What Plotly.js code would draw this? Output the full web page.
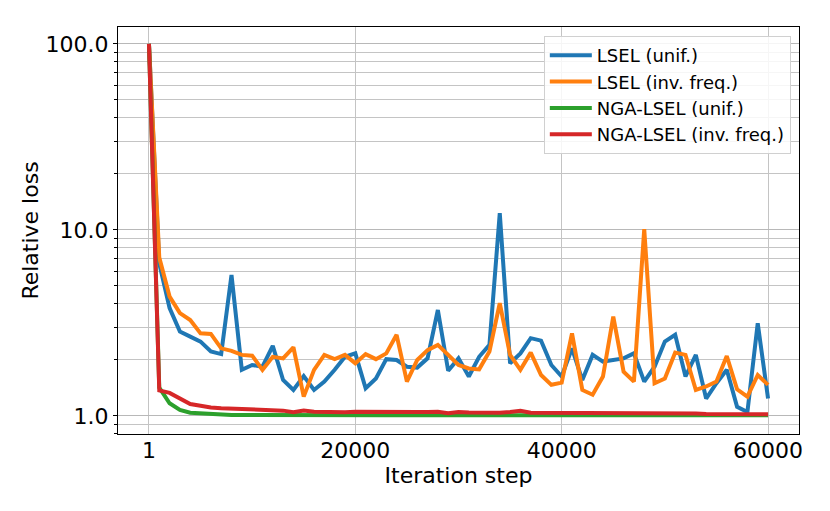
<!DOCTYPE html>
<html>
<head>
<meta charset="utf-8">
<script src="https://cdn.plot.ly/plotly-3.0.1.min.js"></script>
<style>
  html, body { margin: 0; padding: 0; background: #fff; }
  #chart { width: 830px; height: 511px; }
</style>
</head>
<body>
<div id="chart"></div>
<script>
// Iteration steps: 1, then every 1000 up to 60000
const steps = [1, 1000, 2000, 3000, 4000, 5000, 6000, 7000, 8000, 9000,
  10000, 11000, 12000, 13000, 14000, 15000, 16000, 17000, 18000, 19000,
  20000, 21000, 22000, 23000, 24000, 25000, 26000, 27000, 28000, 29000,
  30000, 31000, 32000, 33000, 34000, 35000, 36000, 37000, 38000, 39000,
  40000, 41000, 42000, 43000, 44000, 45000, 46000, 47000, 48000, 49000,
  50000, 51000, 52000, 53000, 54000, 55000, 56000, 57000, 58000, 59000, 60000];

const lselUnif = [100, 6.6, 3.8, 2.84, 2.67, 2.51, 2.22, 2.15, 5.73, 1.77,
  1.88, 1.84, 2.38, 1.56, 1.38, 1.64, 1.38, 1.53, 1.77, 2.08,
  2.17, 1.41, 1.59, 2.02, 2.0, 1.84, 1.82, 2.04, 3.71, 1.75,
  2.04, 1.63, 2.08, 2.41, 12.3, 1.92, 2.17, 2.62, 2.54, 1.88,
  1.63, 2.31, 1.56, 2.13, 1.96, 2.0, 2.04, 2.17, 1.53, 1.84,
  2.51, 2.73, 1.63, 2.13, 1.24, 1.50, 1.77, 1.12, 1.05, 3.15, 1.24];

const lselInvFreq = [100, 7.1, 4.38, 3.57, 3.28, 2.78, 2.76, 2.31, 2.24, 2.13,
  2.11, 1.77, 2.08, 2.04, 2.34, 1.27, 1.77, 2.13, 2.02, 2.13,
  1.92, 2.15, 2.02, 2.17, 2.73, 1.53, 2.0, 2.26, 2.41, 2.13,
  1.88, 1.80, 1.78, 2.22, 4.04, 2.13, 1.77, 2.19, 1.66, 1.47,
  1.51, 2.78, 1.38, 1.30, 1.63, 3.42, 1.73, 1.53, 10.1, 1.50,
  1.59, 2.19, 2.13, 1.38, 1.44, 1.53, 2.10, 1.39, 1.27, 1.66, 1.47];

const ngaUnif = [100, 1.42, 1.17, 1.077, 1.04, 1.03, 1.02, 1.015, 1.012, 1.012,
  1.011, 1.01, 1.01, 1.01, 1.01, 1.01, 1.01, 1.01, 1.01, 1.01,
  1.01, 1.01, 1.01, 1.01, 1.01, 1.01, 1.01, 1.01, 1.01, 1.01,
  1.008, 1.008, 1.008, 1.008, 1.01, 1.012, 1.015, 1.008, 1.008, 1.008,
  1.008, 1.008, 1.008, 1.008, 1.008, 1.008, 1.008, 1.008, 1.008, 1.008,
  1.008, 1.008, 1.008, 1.008, 1.008, 1.008, 1.008, 1.008, 1.008, 1.008, 1.008];

const ngaInvFreq = [100, 1.37, 1.33, 1.245, 1.16, 1.136, 1.11, 1.10, 1.095, 1.086,
  1.086, 1.077, 1.068, 1.068, 1.047, 1.07, 1.055, 1.05, 1.047, 1.047,
  1.055, 1.052, 1.052, 1.05, 1.05, 1.047, 1.05, 1.05, 1.052, 1.034,
  1.05, 1.045, 1.04, 1.045, 1.04, 1.05, 1.065, 1.04, 1.04, 1.035,
  1.035, 1.03, 1.03, 1.03, 1.035, 1.03, 1.035, 1.04, 1.035, 1.03,
  1.03, 1.03, 1.03, 1.03, 1.025, 1.025, 1.02, 1.02, 1.02, 1.02, 1.02];

const seriesNames = ['LSEL (unif.)', 'LSEL (inv. freq.)', 'NGA-LSEL (unif.)', 'NGA-LSEL (inv. freq.)'];
const seriesColors = ['#1f77b4', '#ff7f0e', '#2ca02c', '#d62728'];

const xTickVals = [1, 20000, 40000, 60000];
const xTickText = ['1', '20000', '40000', '60000'];
const yTickVals = [1, 10, 100];
const yTickText = ['1.0', '10.0', '100.0'];

const FONT = 'DejaVu Sans, sans-serif';
const GRID = '#c4c4c4';

const traces = [lselUnif, lselInvFreq, ngaUnif, ngaInvFreq].map((vals, i) => ({
  x: steps,
  y: vals,
  type: 'scatter',
  mode: 'lines',
  name: seriesNames[i],
  line: { color: seriesColors[i], width: 4 },
}));

const layout = {
  width: 830,
  height: 511,
  paper_bgcolor: '#fff',
  plot_bgcolor: '#fff',
  font: { family: FONT, color: '#000', size: 22 },
  margin: { l: 118, r: 31, t: 27, b: 77 },
  showlegend: true,
  xaxis: {
    range: [-3000, 63000],
    tickvals: xTickVals,
    ticktext: xTickText,
    ticks: '',
    ticklabelstandoff: -3,
    tickfont: { size: 22 },
    showgrid: true,
    gridcolor: GRID,
    gridwidth: 1,
    zeroline: false,
    showline: true,
    linecolor: '#000',
    linewidth: 1,
    mirror: true,
    title: { text: 'Iteration step', font: { size: 22 }, standoff: 3 },
  },
  yaxis: {
    type: 'log',
    range: [-0.097, 2.091],
    tickvals: yTickVals,
    ticktext: yTickText,
    ticks: 'outside',
    ticklen: 4,
    tickwidth: 1,
    tickcolor: '#000',
    tickfont: { size: 22 },
    showgrid: true,
    gridcolor: '#b8b8b8',
    gridwidth: 1,
    zeroline: false,
    showline: true,
    linecolor: '#000',
    linewidth: 1,
    mirror: true,
    minor: {
      dtick: 'D1',
      ticks: 'outside',
      ticklen: 3,
      tickcolor: '#000',
      showgrid: true,
      gridcolor: GRID,
      gridwidth: 1,
    },
    title: { text: 'Relative loss', font: { size: 22 }, standoff: 0 },
  },
  legend: {
    x: 0.988,
    y: 0.978,
    xanchor: 'right',
    yanchor: 'top',
    bgcolor: 'rgba(255,255,255,0.85)',
    bordercolor: '#d0d0d0',
    borderwidth: 1,
    itemwidth: 42,
    font: { family: FONT, size: 18, color: '#000' },
  },
};

Plotly.newPlot('chart', traces, layout, { displayModeBar: false, staticPlot: true });
</script>
</body>
</html>
